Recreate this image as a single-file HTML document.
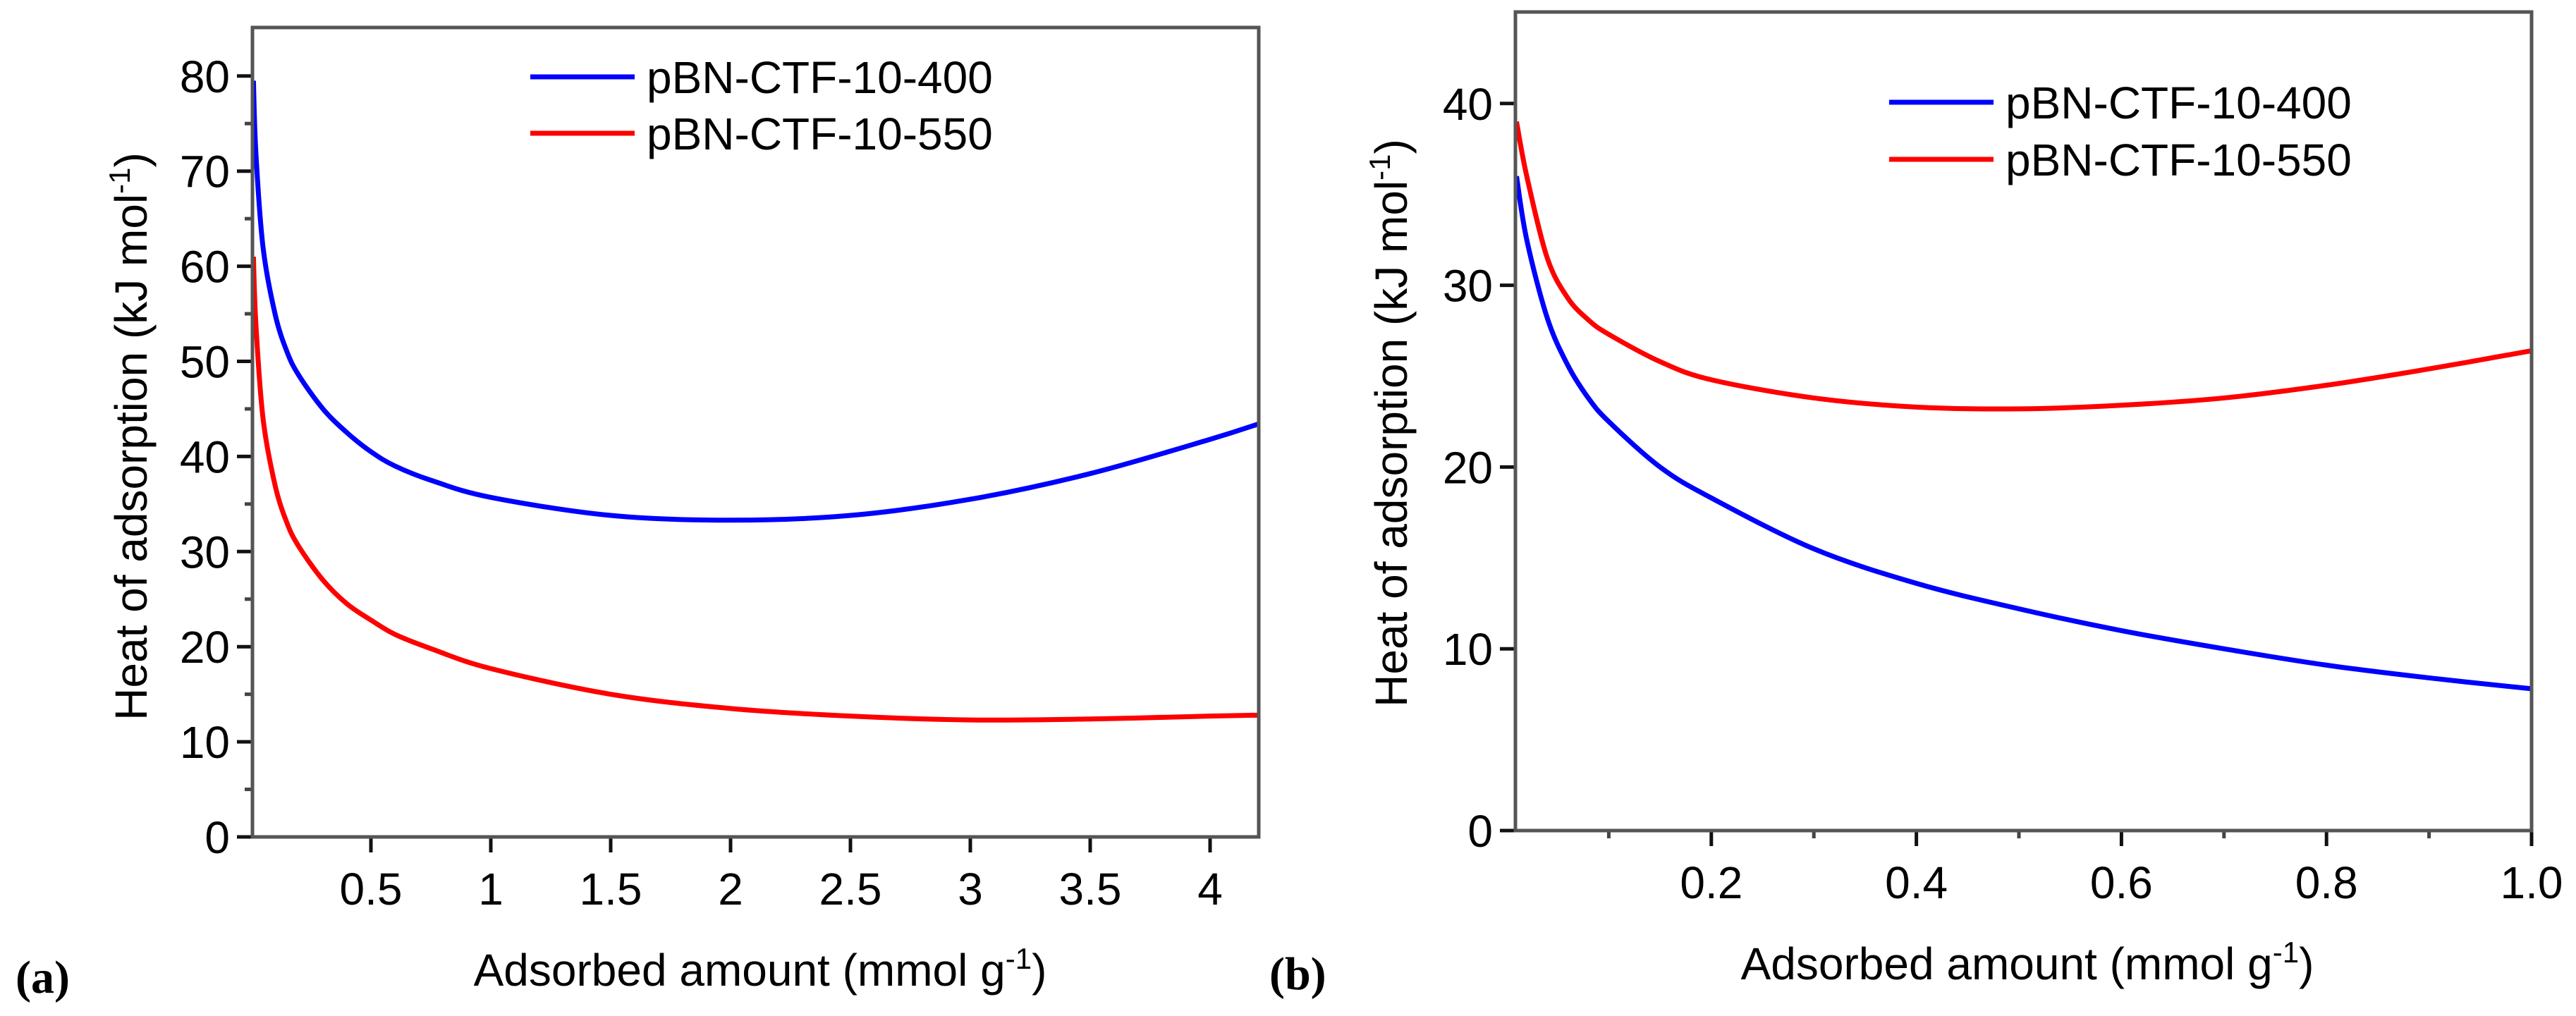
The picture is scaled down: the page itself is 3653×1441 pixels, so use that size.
<!DOCTYPE html>
<html><head><meta charset="utf-8"><style>
html,body{margin:0;padding:0;background:#fff;}
svg{display:block;font-family:"Liberation Sans",Arial,sans-serif;}
</style></head><body>
<svg id="fig" width="3653" height="1441" viewBox="0 0 3653 1441" xmlns="http://www.w3.org/2000/svg"></svg>
<script>
const aX=[0.01,0.02,0.05,0.1,0.15,0.2,0.3,0.4,0.5,0.6,0.75,1,1.5,2,2.5,3,3.5,4,4.2];
const aBlue=[79.5,72,62,55,51,48.5,45,42.5,40.5,39,37.5,35.7,33.8,33.3,33.8,35.5,38.2,41.8,43.4];
const aRed=[61,54,44,37,33,30.5,27,24.5,22.8,21.3,19.8,17.7,15,13.5,12.7,12.3,12.4,12.7,12.8];
const bX=[0.01,0.02,0.04,0.06,0.08,0.1,0.15,0.2,0.3,0.4,0.5,0.6,0.7,0.8,0.9,1.0];
const bBlue=[36,32.5,28.2,25.6,23.8,22.5,20,18.3,15.5,13.6,12.2,11,10,9.1,8.4,7.8];
const bRed=[39,36,31.5,29.3,28.1,27.3,25.8,24.8,23.8,23.3,23.2,23.4,23.8,24.5,25.4,26.4];
const aXTicks=[0.5,1,1.5,2,2.5,3,3.5,4];
const aXTickLabels=["0.5","1","1.5","2","2.5","3","3.5","4"];
const aYTicks=[0,10,20,30,40,50,60,70,80];
const bXTicks=[0.2,0.4,0.6,0.8,1.0];
const bXTickLabels=["0.2","0.4","0.6","0.8","1.0"];
const bYTicks=[0,10,20,30,40];
const NS="http://www.w3.org/2000/svg";
const svg=document.getElementById('fig');
function el(tag,attrs,parent,text){const e=document.createElementNS(NS,tag);for(const k in attrs)e.setAttribute(k,attrs[k]);if(text!==undefined)e.textContent=text;(parent||svg).appendChild(e);return e;}
function smooth(pts){let d=`M${pts[0][0]},${pts[0][1]}`;for(let i=0;i<pts.length-1;i++){const p0=pts[i-1]||pts[i],p1=pts[i],p2=pts[i+1],p3=pts[i+2]||p2;const c1x=p1[0]+(p2[0]-p0[0])/6,c1y=p1[1]+(p2[1]-p0[1])/6,c2x=p2[0]-(p3[0]-p1[0])/6,c2y=p2[1]-(p3[1]-p1[1])/6;d+=` C${c1x},${c1y} ${c2x},${c2y} ${p2[0]},${p2[1]}`;}return d;}
function panel(cfg){
  const g=el('g',{});
  
  
  const sx=v=>cfg.x0+(v-cfg.xmin)*cfg.xs, sy=v=>cfg.y0-(v)*cfg.ys;
  cfg.yMinor.forEach(v=>{const t=el('line',{x1:cfg.L-11,x2:cfg.L,y1:sy(v),y2:sy(v),stroke:'#444','stroke-width':5},g);});
  cfg.xMinor.forEach(v=>{const t=el('line',{x1:sx(v),x2:sx(v),y1:cfg.B,y2:cfg.B+11,stroke:'#444','stroke-width':5},g);});
  cfg.yTicks.forEach(v=>{const t=el('line',{x1:cfg.L-22,x2:cfg.L,y1:sy(v),y2:sy(v),stroke:'#111','stroke-width':5},g);
    const l=el('text',{x:cfg.L-32,y:sy(v)+23,'font-size':64,'text-anchor':'end',fill:'#000'},g,String(v));});
  cfg.xTicks.forEach((v,i)=>{const t=el('line',{x1:sx(v),x2:sx(v),y1:cfg.B,y2:cfg.B+22,stroke:'#111','stroke-width':5},g);
    const l=el('text',{x:sx(v),y:cfg.B+96,'font-size':64,'text-anchor':'middle',fill:'#000'},g,cfg.xLabels[i]);});
  const series=[[cfg.blue,'#0000ff','series-pbn-ctf-10-400'],[cfg.red,'#ff0000','series-pbn-ctf-10-550']];
  series.forEach(s=>{const pts=cfg.xs_data.map((x,i)=>[sx(x),sy(s[0][i])]);const p=el('path',{d:smooth(pts),fill:'none',stroke:s[1],'stroke-width':7,'stroke-linejoin':'round'},g);});
  const fr=el('rect',{x:cfg.L,y:cfg.T,width:cfg.R-cfg.L,height:cfg.B-cfg.T,fill:'none',stroke:'#555','stroke-width':5},g);
  const lg=el('g',{},g);
  [['pBN-CTF-10-400','#0000ff',cfg.legY1],['pBN-CTF-10-550','#ff0000',cfg.legY2]].forEach(e=>{
    const en=el('g',{},lg);
    el('line',{x1:cfg.legX,x2:cfg.legX+148,y1:e[2],y2:e[2],stroke:e[1],'stroke-width':7},en);
    el('text',{x:cfg.legX+165,y:e[2]+23,'font-size':64,fill:'#000'},en,e[0]);});
  const yt=el('text',{transform:`translate(${cfg.ytX},${cfg.ytY}) rotate(-90)`,'font-size':64,'text-anchor':'middle',fill:'#000'},g);
  
  yt.innerHTML='Heat of adsorption (kJ mol<tspan dy="-24" font-size="42">-1</tspan><tspan dy="24">)</tspan>';
  const xt=el('text',{x:cfg.xtX,y:cfg.xtY,'font-size':64,'text-anchor':'middle',fill:'#000'},g);
  
  xt.innerHTML='Adsorbed amount (mmol g<tspan dy="-24" font-size="42">-1</tspan><tspan dy="24">)</tspan>';
  const pl=el('text',{x:cfg.plX,y:cfg.plY,'font-size':66,'font-weight':'bold','font-family':'"Liberation Serif",serif',fill:'#000'},g,cfg.panelLabel);
  
}
panel({name:'chart-a',xs_data:aX,blue:aBlue,red:aRed,xmin:0,x0:356,xs:340,y0:1187,ys:13.49,L:358,R:1785,T:39,B:1187,
  yTicks:aYTicks,yMinor:[5,15,25,35,45,55,65,75],xTicks:aXTicks,xLabels:aXTickLabels,xMinor:[],
  legX:752,legY1:109,legY2:189,ytX:208,ytY:619,xtX:1078,xtY:1398,plX:22,plY:1408,panelLabel:'(a)'});
panel({name:'chart-b',xs_data:bX,blue:bBlue,red:bRed,xmin:0,x0:2136,xs:1454,y0:1178,ys:25.78,L:2149,R:3590,T:17,B:1178,
  yTicks:bYTicks,yMinor:[],xTicks:bXTicks,xLabels:bXTickLabels,xMinor:[0.1,0.3,0.5,0.7,0.9],
  legX:2679,legY1:145,legY2:226,ytX:1995,ytY:600,xtX:2875,xtY:1389,plX:1800,plY:1403,panelLabel:'(b)'});
</script>
</body></html>
